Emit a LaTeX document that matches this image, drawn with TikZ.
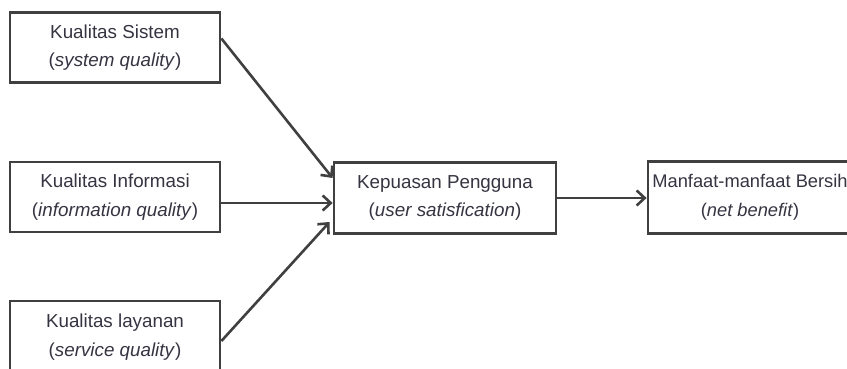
\documentclass[tikz,border=0pt]{standalone}
\usepackage{fontspec}
\setmainfont{Liberation Sans}
\usetikzlibrary{arrows.meta}
\definecolor{linec}{RGB}{64,64,64}
\definecolor{textc}{RGB}{55,52,66}
\begin{document}
\begin{tikzpicture}[x=1pt,y=-1pt,
  box/.style={draw=linec, line width=2.8pt, fill=white, text=textc,
    minimum width=210pt, minimum height=70pt, align=center, inner sep=0pt,
    font=\fontsize{18.8}{28.5}\selectfont},
  conn/.style={draw=linec, line width=2.6pt,
    -{Straight Barb[length=8pt,width=15pt,line width=2.6pt]}}]
\useasboundingbox (0,0) rectangle (847,369);
\clip (0,0) rectangle (847,369);
\node[box] (b1) at (115,47.5) {Kualitas Sistem\\(\textit{system quality})};
\node[box] (b2) at (115,197) {Kualitas Informasi\\(\textit{information quality})};
\node[box, minimum height=72pt] (b3) at (115,337) {Kualitas layanan\\(\textit{service quality})};
\node[box, minimum width=222pt, minimum height=71pt] (b4) at (445,198) {Kepuasan Pengguna\\(\textit{user satisfication})};
\node[box, minimum width=204pt, minimum height=72pt, font=\fontsize{18.3}{28.5}\selectfont] (b5) at (750,197.5) {Manfaat-manfaat Bersih\\(\textit{net benefit})};
\draw[conn] ([yshift=9pt]b1.east) -- ([yshift=20pt]b4.west);
\draw[conn] ([yshift=-6pt]b2.east) -- ([yshift=-5pt]b4.west);
\draw[conn] ([yshift=-4pt]b3.east) -- ([xshift=-3pt,yshift=-24pt]b4.west);
\draw[conn] (b4.east) -- ([yshift=-0.5pt]b5.west);
\end{tikzpicture}
\end{document}
